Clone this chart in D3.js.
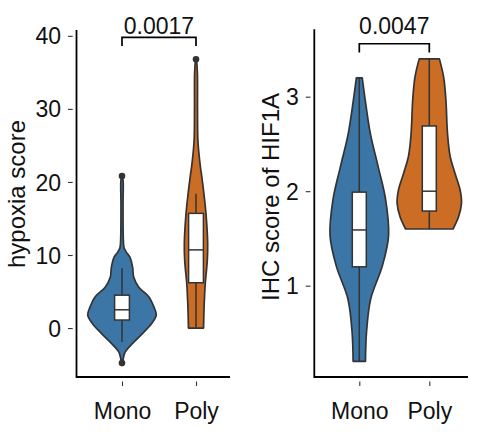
<!DOCTYPE html>
<html>
<head>
<meta charset="utf-8">
<script src="https://cdn.jsdelivr.net/npm/d3@7"></script>
<style>
  body { margin: 0; background: #fff; }
  svg { display: block; font-family: "Liberation Sans", Arial, sans-serif; }
</style>
</head>
<body>
<div id="chart"></div>
<script>
// groups on the x axis
const GROUPS = ["Mono", "Poly"];

// tick labels
const HYPOXIA_TICKS = [0, 10, 20, 30, 40];
const IHC_TICKS = [1, 2, 3];

// violin outlines: [value, density]
const hypoxiaMonoDensity = [
  [-4.8, 0.0015], [-3.9, 0.005], [-3.25, 0.0096], [-2.1, 0.031], [-0.7, 0.061],
  [0.65, 0.087], [1.8, 0.100], [2.9, 0.093], [4.3, 0.078], [5.6, 0.049],
  [7.0, 0.034], [8.3, 0.031], [9.7, 0.023], [10.4, 0.0125], [11, 0.006],
  [12, 0.004], [17, 0.003], [20, 0.0035], [20.8, 0.0015]
];
const hypoxiaPolyDensity = [
  [0, 0.022], [3.4, 0.024], [6.1, 0.027], [9.3, 0.033], [11.6, 0.034],
  [15.7, 0.029], [18.4, 0.023], [20.7, 0.017], [22, 0.013], [24.5, 0.0073],
  [26, 0.0052], [30, 0.0044], [35, 0.004], [36.8, 0.0015]
];
const ihcMonoDensity = [
  [0.2, 0.19], [0.5, 0.22], [0.86, 0.35], [1.21, 0.71], [1.53, 0.90],
  [1.91, 0.81], [2.26, 0.58], [2.61, 0.34], [2.97, 0.18], [3.2, 0.09]
];
const ihcPolyDensity = [
  [1.6, 0.73], [1.73, 0.90], [1.87, 0.99], [2.01, 0.95], [2.19, 0.79],
  [2.37, 0.64], [2.61, 0.56], [2.97, 0.51], [3.21, 0.44], [3.4, 0.31]
];

// box stats: [lower whisker, q1, median, q3, upper whisker]
const hypoxiaMonoBox = [-1.9, 1.1, 2.5, 4.5, 8.2];
const hypoxiaPolyBox = [0, 6.2, 10.7, 15.7, 18.4];
const ihcMonoBox = [0.2, 1.2, 1.59, 1.99, 3.2];
const ihcPolyBox = [1.6, 1.79, 2.0, 2.69, 3.4];

// outlier points
const hypoxiaMonoOutliers = [20.8, -4.8];
const hypoxiaPolyOutliers = [36.8];
const ihcMonoOutliers = [];
const ihcPolyOutliers = [];

// p values and bracket heights (data units)
const P_VALUES = ["0.0017", "0.0047"];
const BRACKET_LEVELS = [39.8, 3.56];

const COLORS = { Mono: "#3c76a6", Poly: "#cb6d24" };
const OUTLINE = "#333333";

const width = 481, height = 436;

const svg = d3.select("#chart").append("svg")
  .attr("width", width)
  .attr("height", height);

////////////////////////////////////////////////////////////
//////////////////// Panel definitions /////////////////////
////////////////////////////////////////////////////////////

const panels = [
  {
    title: "hypoxia score",
    ticks: HYPOXIA_TICKS,
    y: d3.scaleLinear().domain([-6.7, 40.8]).range([377, 30]),
    x: d3.scalePoint().domain(GROUPS).range([122, 196]),
    w: d3.scaleLinear().domain([0, 0.1]).range([0, 34.3]),
    axisX: [76.5, 230],
    titleX: 24.5, titleY: 194,
    density: { Mono: hypoxiaMonoDensity, Poly: hypoxiaPolyDensity },
    box: { Mono: hypoxiaMonoBox, Poly: hypoxiaPolyBox },
    outliers: { Mono: hypoxiaMonoOutliers, Poly: hypoxiaPolyOutliers },
    p: P_VALUES[0], bracket: BRACKET_LEVELS[0]
  },
  {
    title: "IHC score of HIF1A",
    ticks: IHC_TICKS,
    y: d3.scaleLinear().domain([0.034, 3.713]).range([377, 29.3]),
    x: d3.scalePoint().domain(GROUPS).range([359.3, 429.3]),
    w: d3.scaleLinear().domain([0, 1]).range([0, 32.5]),
    axisX: [314.3, 468],
    titleX: 278.5, titleY: 197,
    density: { Mono: ihcMonoDensity, Poly: ihcPolyDensity },
    box: { Mono: ihcMonoBox, Poly: ihcPolyBox },
    outliers: { Mono: ihcMonoOutliers, Poly: ihcPolyOutliers },
    p: P_VALUES[1], bracket: BRACKET_LEVELS[1]
  }
];

panels.forEach(drawPanel);

function drawPanel(p) {
  const g = svg.append("g");
  const [y0, y1] = p.y.range();
  const step = p.x.step();
  const boxW = step * 0.2;

  //violins
  GROUPS.forEach(grp => {
    const cx = p.x(grp);
    const area = d3.area()
      .curve(d3.curveCatmullRom)
      .y(d => p.y(d[0]))
      .x0(d => cx - p.w(d[1]))
      .x1(d => cx + p.w(d[1]));

    g.append("path")
      .datum(p.density[grp])
      .attr("d", area)
      .attr("fill", COLORS[grp])
      .attr("stroke", OUTLINE)
      .attr("stroke-width", 1.7)
      .attr("stroke-linejoin", "round");

    //box + whiskers
    const [lo, q1, med, q3, hi] = p.box[grp];
    g.append("line")
      .attr("x1", cx).attr("x2", cx)
      .attr("y1", p.y(lo)).attr("y2", p.y(hi))
      .attr("stroke", OUTLINE).attr("stroke-width", 1.5);
    g.append("rect")
      .attr("x", cx - boxW / 2)
      .attr("width", boxW)
      .attr("y", p.y(q3))
      .attr("height", p.y(q1) - p.y(q3))
      .attr("fill", "#fff")
      .attr("stroke", OUTLINE).attr("stroke-width", 1.5);
    g.append("line")
      .attr("x1", cx - boxW / 2).attr("x2", cx + boxW / 2)
      .attr("y1", p.y(med)).attr("y2", p.y(med))
      .attr("stroke", OUTLINE).attr("stroke-width", 1.5);

    g.selectAll(null)
      .data(p.outliers[grp])
      .enter().append("circle")
      .attr("cx", cx)
      .attr("cy", d => p.y(d))
      .attr("r", 3.3)
      .attr("fill", OUTLINE);
  });

  //y axis
  const yAxis = g.append("g")
    .attr("transform", `translate(${p.axisX[0]},0)`)
    .call(d3.axisLeft(p.y).tickValues(p.ticks).tickFormat(d3.format("d")).tickSizeOuter(0));
  yAxis.select(".domain").remove();
  yAxis.selectAll(".tick line")
    .attr("x1", -3.8).attr("x2", -8.5)
    .attr("stroke", OUTLINE).attr("stroke-width", 1.1);
  yAxis.selectAll(".tick text")
    .attr("x", -15.5)
    .attr("dy", "0.35em")
    .attr("fill", "#111")
    .style("font-size", "23px")
    .style("font-family", "Liberation Sans, Arial, sans-serif");

  //x axis
  const xAxis = g.append("g")
    .attr("transform", `translate(0,${y0})`)
    .call(d3.axisBottom(p.x).tickSizeOuter(0));
  xAxis.select(".domain").remove();
  xAxis.selectAll(".tick line")
    .attr("y1", 4.5).attr("y2", 9)
    .attr("stroke", OUTLINE).attr("stroke-width", 1.1);
  xAxis.selectAll(".tick text")
    .attr("y", 42)
    .attr("dy", 0)
    .attr("fill", "#111")
    .style("font-size", "23px")
    .style("font-family", "Liberation Sans, Arial, sans-serif");

  //axis lines
  g.append("path")
    .attr("d", `M${p.axisX[0]},${y1}V${y0}H${p.axisX[1]}`)
    .attr("fill", "none")
    .attr("stroke", "#000")
    .attr("stroke-width", 1.8);

  //y title
  g.append("text")
    .attr("transform", `translate(${p.titleX},${p.titleY}) rotate(-90)`)
    .attr("text-anchor", "middle")
    .attr("fill", "#111")
    .style("font-size", "24px")
    .text(p.title);

  //significance bracket
  const bx0 = p.x(GROUPS[0]), bx1 = p.x(GROUPS[1]);
  const by = p.y(p.bracket);
  g.append("path")
    .attr("d", `M${bx0},${by + 8.7}V${by}H${bx1}V${by + 8.7}`)
    .attr("fill", "none")
    .attr("stroke", "#000")
    .attr("stroke-width", 1.7);
  g.append("text")
    .attr("x", (bx0 + bx1) / 2)
    .attr("y", 34)
    .attr("text-anchor", "middle")
    .attr("fill", "#111")
    .style("font-size", "23px")
    .text(p.p);
}
</script>
</body>
</html>
